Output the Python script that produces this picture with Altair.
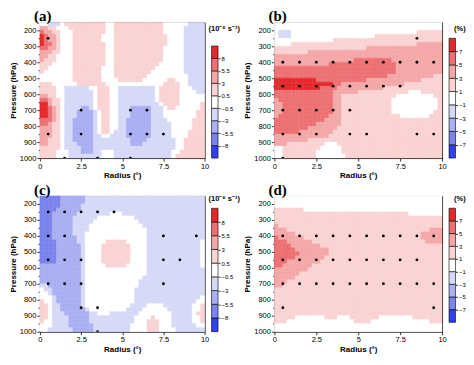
import altair as alt
import pandas as pd

# ---------------- data ----------------
# cell edges of the digitised contour fields (radius in degrees, pressure in hPa)
RADIUS_EDGES = [0.0, 0.25, 0.5, 0.75, 1.0, 1.25, 1.5, 1.75, 2.0, 2.25, 2.5,
                2.75, 3.0, 3.25, 3.5, 3.75, 4.0, 4.25, 4.5, 4.75, 5.0,
                5.25, 5.5, 5.75, 6.0, 6.25, 6.5, 6.75, 7.0, 7.25, 7.5,
                7.75, 8.0, 8.25, 8.5, 8.75, 9.0, 9.25, 9.5, 9.75, 10.0]
PRESSURE_EDGES = [150, 175, 200, 225, 250, 275, 300, 325, 350, 375, 400,
                  425, 450, 475, 500, 525, 550, 575, 600, 625, 650, 675,
                  700, 725, 750, 775, 800, 825, 850, 875, 900, 925, 950,
                  975, 1000]
X_TICKS = [0, 2.5, 5, 7.5, 10]
Y_TICKS = [200, 250, 300, 350, 400, 450, 500, 550, 600, 650, 700, 750,
           800, 850, 900, 950, 1000]

# contour band codes: d c b a = negative bands (strong -> weak), "." = white,
# 1 2 3 4 = positive bands (weak -> strong)
BAND_CODES = ["d", "c", "b", "a", ".", "1", "2", "3", "4"]
BAND_POS = [0, 1, 2, 3, 4, 5, 6, 7, 8, 9]
BAND_COLORS = ["#2f40ef", "#7a83ee", "#a9aff2", "#d6d9f7", "#ffffff",
               "#fad3d3", "#f4a7a8", "#ed7073", "#e6282d"]
VORT_LABELS = ["−8", "−5.5", "−3", "−0.5", "0.5", "3", "5.5", "8"]
PCT_LABELS = ["−7", "−5", "−3", "−1", "1", "3", "5", "7"]

# each row (top = 150-175 hPa ... bottom = 975-1000 hPa) is run-length coded:
# "code*count" tokens, 40 cells of 0.25 deg from radius 0 to 10
GRID_A = [
    ".*2 a*3 .*1 1*10 .*2 1*12 .*6 a*4",
    "2*2 1*2 .*3 1*9 .*2 1*12 .*5 a*5",
    "3*1 2*2 1*2 .*3 1*8 .*2 1*12 .*5 a*5",
    "4*1 3*1 2*2 1*1 .*3 1*7 .*3 1*13 .*4 a*5",
    "4*1 3*1 2*2 1*1 .*3 1*7 .*3 1*13 .*4 a*5",
    "4*1 3*2 2*1 1*1 .*3 1*8 .*2 1*13 .*4 a*5",
    "3*2 2*2 1*1 .*3 1*8 .*2 1*12 .*5 a*5",
    "2*3 1*2 .*3 1*8 .*2 1*12 .*5 a*5",
    "2*2 1*2 .*4 1*8 .*2 1*12 .*5 a*5",
    "2*1 1*3 .*4 1*8 .*2 1*12 .*5 a*5",
    "1*3 .*5 1*8 .*2 1*11 .*6 a*5",
    "1*2 .*6 1*7 .*3 1*10 .*7 a*5",
    "1*1 .*7 1*7 .*3 1*9 .*8 a*5",
    ".*8 1*7 .*3 1*8 .*10 a*4",
    ".*8 1*7 .*4 1*6 .*6 1*2 .*3 a*4",
    "1*3 .*6 1*7 .*14 1*4 .*2 a*4",
    "1*4 .*2 a*6 .*2 1*3 .*2 a*9 .*1 1*5 .*3 a*3",
    "1*4 .*2 a*7 .*1 1*3 .*2 a*9 .*1 1*5 .*4 a*2",
    "2*2 1*2 .*2 a*7 .*1 1*3 .*2 a*9 .*1 1*5 .*6",
    "3*2 2*1 1*2 .*1 a*7 .*1 1*3 .*2 a*9 .*1 1*5 .*6",
    "4*2 2*1 1*2 .*1 a*7 .*1 1*3 .*2 a*10 .*1 1*4 .*5 1*1",
    "4*2 3*1 2*1 1*1 .*1 a*4 b*2 a*1 .*1 1*3 .*2 a*3 b*5 a*3 .*1 1*2 .*6 1*1",
    "4*2 3*1 2*1 1*1 .*1 a*3 b*4 a*1 .*1 1*2 .*2 a*3 b*5 a*3 .*8 1*2",
    "4*2 3*1 2*1 1*1 .*1 a*3 b*4 a*1 .*1 1*2 .*2 a*3 b*5 a*3 .*8 1*2",
    "3*3 2*1 1*1 .*1 a*2 b*5 a*1 .*1 1*2 .*2 a*2 b*6 a*4 .*6 1*3",
    "3*2 2*1 1*2 .*1 a*2 b*5 a*1 .*1 1*2 .*2 a*2 b*6 a*5 .*5 1*3",
    "2*3 1*2 .*1 a*2 b*5 a*1 .*1 1*2 .*2 a*2 b*6 a*5 .*5 1*3",
    "2*3 1*2 .*1 a*2 b*5 a*1 .*1 1*2 .*1 a*3 b*6 a*5 .*4 1*4",
    "2*3 1*2 .*1 a*2 b*5 a*2 .*2 a*4 b*6 a*5 .*4 1*4",
    "2*2 1*3 .*1 a*2 b*5 a*9 b*4 a*7 .*2 1*5",
    "2*2 1*3 .*1 a*3 b*4 a*9 b*3 a*8 .*2 1*5",
    "1*5 .*1 a*4 b*3 a*20 .*2 1*5",
    "1*4 .*3 a*3 b*3 a*2 .*3 a*14 .*2 1*6",
    "1*4 .*3 a*8 .*3 a*14 .*1 1*7",
]
GRID_B = [
    ".*40",
    ".*40",
    ".*1 a*3 .*30 1*6",
    ".*1 a*3 .*20 1*16",
    ".*14 1*26",
    ".*4 1*30 2*6",
    "1*22 2*18",
    "1*8 2*32",
    "2*40",
    "2*19 3*9 2*12",
    "2*13 3*16 2*11",
    "3*29 2*11",
    "3*29 2*11",
    "3*27 2*11 1*2",
    "4*10 3*12 2*13 1*5",
    "4*14 3*2 2*15 1*9",
    "4*11 3*4 2*11 1*14",
    "3*14 2*6 1*12 .*3 1*5",
    "3*14 2*2 1*13 .*9 1*2",
    "2*1 3*13 2*2 1*12 .*11 1*1",
    "2*2 3*12 2*2 1*12 .*11 1*1",
    "2*2 3*12 2*2 1*12 .*11 1*1",
    "2*2 3*12 2*2 1*12 .*10 1*2",
    "2*1 3*12 2*3 1*14 .*7 1*3",
    "3*12 2*4 1*24",
    "3*10 2*6 1*24",
    "3*8 2*7 1*25",
    "3*6 2*8 1*26",
    "2*13 1*27",
    "2*8 1*32",
    "2*3 1*9 .*3 1*25",
    ".*2 1*9 .*5 1*24",
    ".*2 1*8 .*6 1*24",
    ".*2 1*8 .*7 1*23",
]
GRID_C = [
    "c*5 b*6 a*29",
    "c*5 b*6 a*29",
    "c*5 b*5 a*30",
    "c*4 b*6 a*30",
    "c*3 b*6 a*8 .*3 a*20",
    "c*3 b*5 a*6 .*9 a*17",
    "c*3 b*5 a*5 .*11 a*16",
    "c*3 b*5 a*4 .*13 a*15",
    "c*3 b*5 a*4 .*14 a*14",
    "c*3 b*5 a*3 .*15 a*14",
    "c*3 b*6 a*2 .*15 a*14",
    "c*4 b*5 a*2 .*5 1*5 .*5 a*13 .*1",
    "c*4 b*6 a*1 .*4 1*7 .*4 a*13 .*1",
    "c*4 b*6 a*1 .*4 1*7 .*4 a*13 .*1",
    "c*4 b*6 a*1 .*4 1*7 .*4 a*13 .*1",
    "c*4 b*6 a*1 .*4 1*7 .*4 a*13 .*1",
    "c*4 b*6 a*1 .*4 1*7 .*4 a*13 .*1",
    "b*10 a*1 .*5 1*5 .*5 a*13 .*1",
    "b*10 a*1 .*15 a*14",
    "b*10 a*1 .*15 a*14",
    "b*10 a*1 .*14 a*15",
    "b*10 a*1 .*13 a*16",
    "a*2 b*8 a*1 .*13 a*16",
    ".*1 a*2 b*7 a*1 .*12 a*17",
    ".*2 a*1 b*7 a*1 .*12 a*17",
    ".*3 a*1 b*6 a*1 .*12 a*16 .*1",
    "1*1 .*2 a*1 b*6 a*1 .*12 a*15 .*2",
    "1*2 .*1 a*2 b*5 a*1 .*11 a*4 .*4 a*7 .*2 1*1",
    "1*2 .*1 a*2 b*6 a*1 .*9 a*4 .*6 a*6 .*2 1*1",
    "1*2 .*1 a*3 b*6 a*2 .*3 a*7 .*8 a*5 .*1 1*2",
    "1*2 .*1 a*4 b*5 a*11 .*4 1*1 .*4 a*5 .*2 1*1",
    "1*1 .*2 a*4 b*5 a*11 .*3 1*3 .*3 a*5 .*2 1*1",
    ".*3 a*4 b*6 a*9 .*4 1*3 .*3 a*6 .*2",
    ".*2 a*6 b*5 a*9 .*4 1*3 .*4 a*7",
]
GRID_D = [
    ".*40",
    ".*40",
    ".*40",
    "1*7 .*33",
    "1*32 .*8",
    "1*40",
    "1*40",
    "2*1 1*39",
    "2*3 1*34 2*3",
    "2*5 1*30 2*5",
    "3*1 2*6 1*28 2*5",
    "3*3 2*6 1*27 2*4",
    "3*4 2*7 1*29",
    "3*5 2*8 1*27",
    "3*6 2*7 1*27",
    "3*5 2*7 1*28",
    "3*3 2*8 1*29",
    "3*2 2*7 1*31",
    "2*8 1*32",
    "2*6 1*34",
    "2*5 1*35",
    "2*3 1*37",
    "2*2 1*38",
    "1*40",
    "1*40",
    "1*40",
    "1*40",
    "1*40",
    "1*40",
    "1*40",
    "1*5 .*7 1*3 .*3 1*7 .*8 1*7",
    "1*3 .*16 1*4 .*14 1*3",
    ".*40",
    ".*40",
]

# significance dots: pressure level -> radii
DOTS_A = {250: [0.5], 700: [2.5, 5.5, 6.5],
          850: [0.5, 2.5, 5.5, 6.5, 7.5], 1000: [1.5, 3.5, 5.5]}
DOTS_B = {250: [8.5],
          400: [0.5, 1.5, 2.5, 3.5, 4.5, 5.5, 6.5, 7.5, 8.5, 9.5],
          550: [0.5, 1.5, 2.5, 3.5, 4.5, 5.5, 6.5, 7.5],
          700: [0.5, 1.5, 2.5, 3.5, 4.5],
          850: [0.5, 1.5, 2.5, 4.5, 5.5, 8.5, 9.5],
          1000: [0.5]}
DOTS_C = {250: [0.5, 1.5, 2.5, 3.5, 4.5], 400: [0.5, 1.5, 7.5, 9.5],
          550: [0.5, 1.5, 2.5, 7.5, 8.5], 700: [0.5, 1.5, 2.5, 7.5],
          850: [2.5, 3.5], 1000: [3.5]}
DOTS_D = {400: [0.5, 1.5, 2.5, 3.5, 4.5, 5.5, 6.5, 7.5, 8.5, 9.5],
          550: [0.5, 1.5, 2.5, 3.5, 4.5, 5.5, 6.5, 7.5, 8.5],
          700: [0.5, 1.5, 2.5, 3.5, 4.5, 5.5, 6.5, 7.5, 8.5, 9.5],
          850: [0.5, 9.5]}

# ---------------- layout ----------------
H = 136
W_LEFT = 165
W_RIGHT = 168
CB_W_LEFT = 56
CB_W_RIGHT = 8
BAR_W = 6.5
NCOL = len(RADIUS_EDGES) - 1

color_scale = alt.Scale(domain=BAND_CODES, range=BAND_COLORS)


def decode(row):
    out = []
    for tok in row.split():
        code, n = tok.split("*")
        out.extend([code] * int(n))
    if len(out) < NCOL:
        out.extend([out[-1]] * (NCOL - len(out)))
    return out[:NCOL]


def cells(grid):
    rows = []
    for i, line in enumerate(grid):
        for j, code in enumerate(decode(line)):
            rows.append({"r0": RADIUS_EDGES[j], "r1": RADIUS_EDGES[j + 1],
                         "p0": PRESSURE_EDGES[i], "p1": PRESSURE_EDGES[i + 1],
                         "band": code})
    return pd.DataFrame(rows)


def dots(dmap):
    return pd.DataFrame([{"r0": r, "p0": p} for p, rs in dmap.items() for r in rs])


def panel(grid, dmap, letter, w):
    xs = alt.Scale(domain=[0, 10], nice=False, zero=False)
    ys = alt.Scale(domain=[150, 1000], reverse=True, nice=False, zero=False)
    x = alt.X("r0:Q", scale=xs,
              axis=alt.Axis(values=X_TICKS, format=".1~f", title="Radius (°)",
                            labelOverlap=False, labelFlush=False))
    y = alt.Y("p0:Q", scale=ys,
              axis=alt.Axis(values=Y_TICKS, format="d", labelOverlap=False,
                            labelFlush=False, title="Pressure (hPa)",
                            labelExpr="datum.value % 100 === 0 ? datum.label : ''",
                            tickSize={"condition": {"test": "datum.value % 100 === 0",
                                                    "value": 3}, "value": 1.8}))
    fill = alt.Chart(cells(grid)).mark_rect(strokeWidth=0.5).encode(
        x=x, x2="r1:Q", y=y, y2="p1:Q",
        color=alt.Color("band:N", scale=color_scale, legend=None),
        stroke=alt.Stroke("band:N", scale=color_scale, legend=None))
    pts = alt.Chart(dots(dmap)).mark_circle(size=8, color="black", opacity=1, clip=True).encode(
        x=x, y=y)
    return alt.layer(fill, pts).properties(
        width=w, height=H,
        title=alt.TitleParams(letter, anchor="start", frame="group", dx=-6, offset=-2,
                              fontSize=15, font="Liberation Serif", fontWeight="bold",
                              color="black"))


def colorbar(labels, title, title_dx, title_offset, domain, w):
    df = pd.DataFrame({"band": BAND_CODES, "x0": [0] * 9, "x1": [1] * 9,
                       "y0": BAND_POS[:-1], "y1": BAND_POS[1:]})
    label_expr = "[" + ",".join("'%s'" % s for s in labels) + "][datum.value - 1]"
    return alt.Chart(df).mark_rect(stroke="black", strokeWidth=0.6).encode(
        x=alt.X("x0:Q", scale=alt.Scale(domain=[0, w / BAR_W], nice=False, zero=False), axis=None),
        x2="x1:Q",
        y=alt.Y("y0:Q", scale=alt.Scale(domain=domain, nice=False, zero=False),
                axis=alt.Axis(orient="right", offset=-(w - BAR_W), values=BAND_POS[1:9],
                              labelExpr=label_expr, domain=False, tickSize=2,
                              labelOverlap=False, labelFlush=False,
                              labelFontSize=6, labelPadding=1, title=None, grid=False)),
        y2="y1:Q",
        color=alt.Color("band:N", scale=color_scale, legend=None),
    ).properties(
        width=w, height=H,
        view=alt.ViewBackground(strokeOpacity=0),
        title=alt.TitleParams(title, anchor="start", frame="group", dx=title_dx,
                              offset=title_offset, fontSize=7.5, fontWeight="bold",
                              font="Liberation Sans", color="black"))


pa = panel(GRID_A, DOTS_A, "(a)", W_LEFT)
pb = panel(GRID_B, DOTS_B, "(b)", W_RIGHT)
pc = panel(GRID_C, DOTS_C, "(c)", W_LEFT)
pdd = panel(GRID_D, DOTS_D, "(d)", W_RIGHT)

ca = colorbar(VORT_LABELS, "(10⁻⁶ s⁻¹)", -3, -10, [0, 10.9], CB_W_LEFT)
cb = colorbar(PCT_LABELS, "(%)", 5, -10, [0, 10.2], CB_W_RIGHT)
cc = colorbar(VORT_LABELS, "(10⁻⁶ s⁻¹)", -3, -7, [0, 9.9], CB_W_LEFT)
cd = colorbar(PCT_LABELS, "(%)", 5, -7, [-0.74, 9.97], CB_W_RIGHT)

chart = alt.concat(
    pa, ca, pb, cb, pc, cc, pdd, cd,
    columns=4, spacing={"row": 38, "column": 7}, bounds="flush", align="each",
).properties(
    padding=0, background="white"
).configure_view(
    stroke="black", strokeWidth=1
).configure_axis(
    labelFont="Liberation Sans", labelFontSize=7.5, labelColor="black",
    titleFont="Liberation Sans", titleFontSize=8, titleFontWeight="bold", titleColor="black",
    tickColor="black", tickSize=3, tickWidth=0.8, labelPadding=1, titlePadding=2,
    labelOverlap=False, domain=False, grid=False
)

chart.save("out.html", embed_options={"renderer": "svg", "actions": False})
